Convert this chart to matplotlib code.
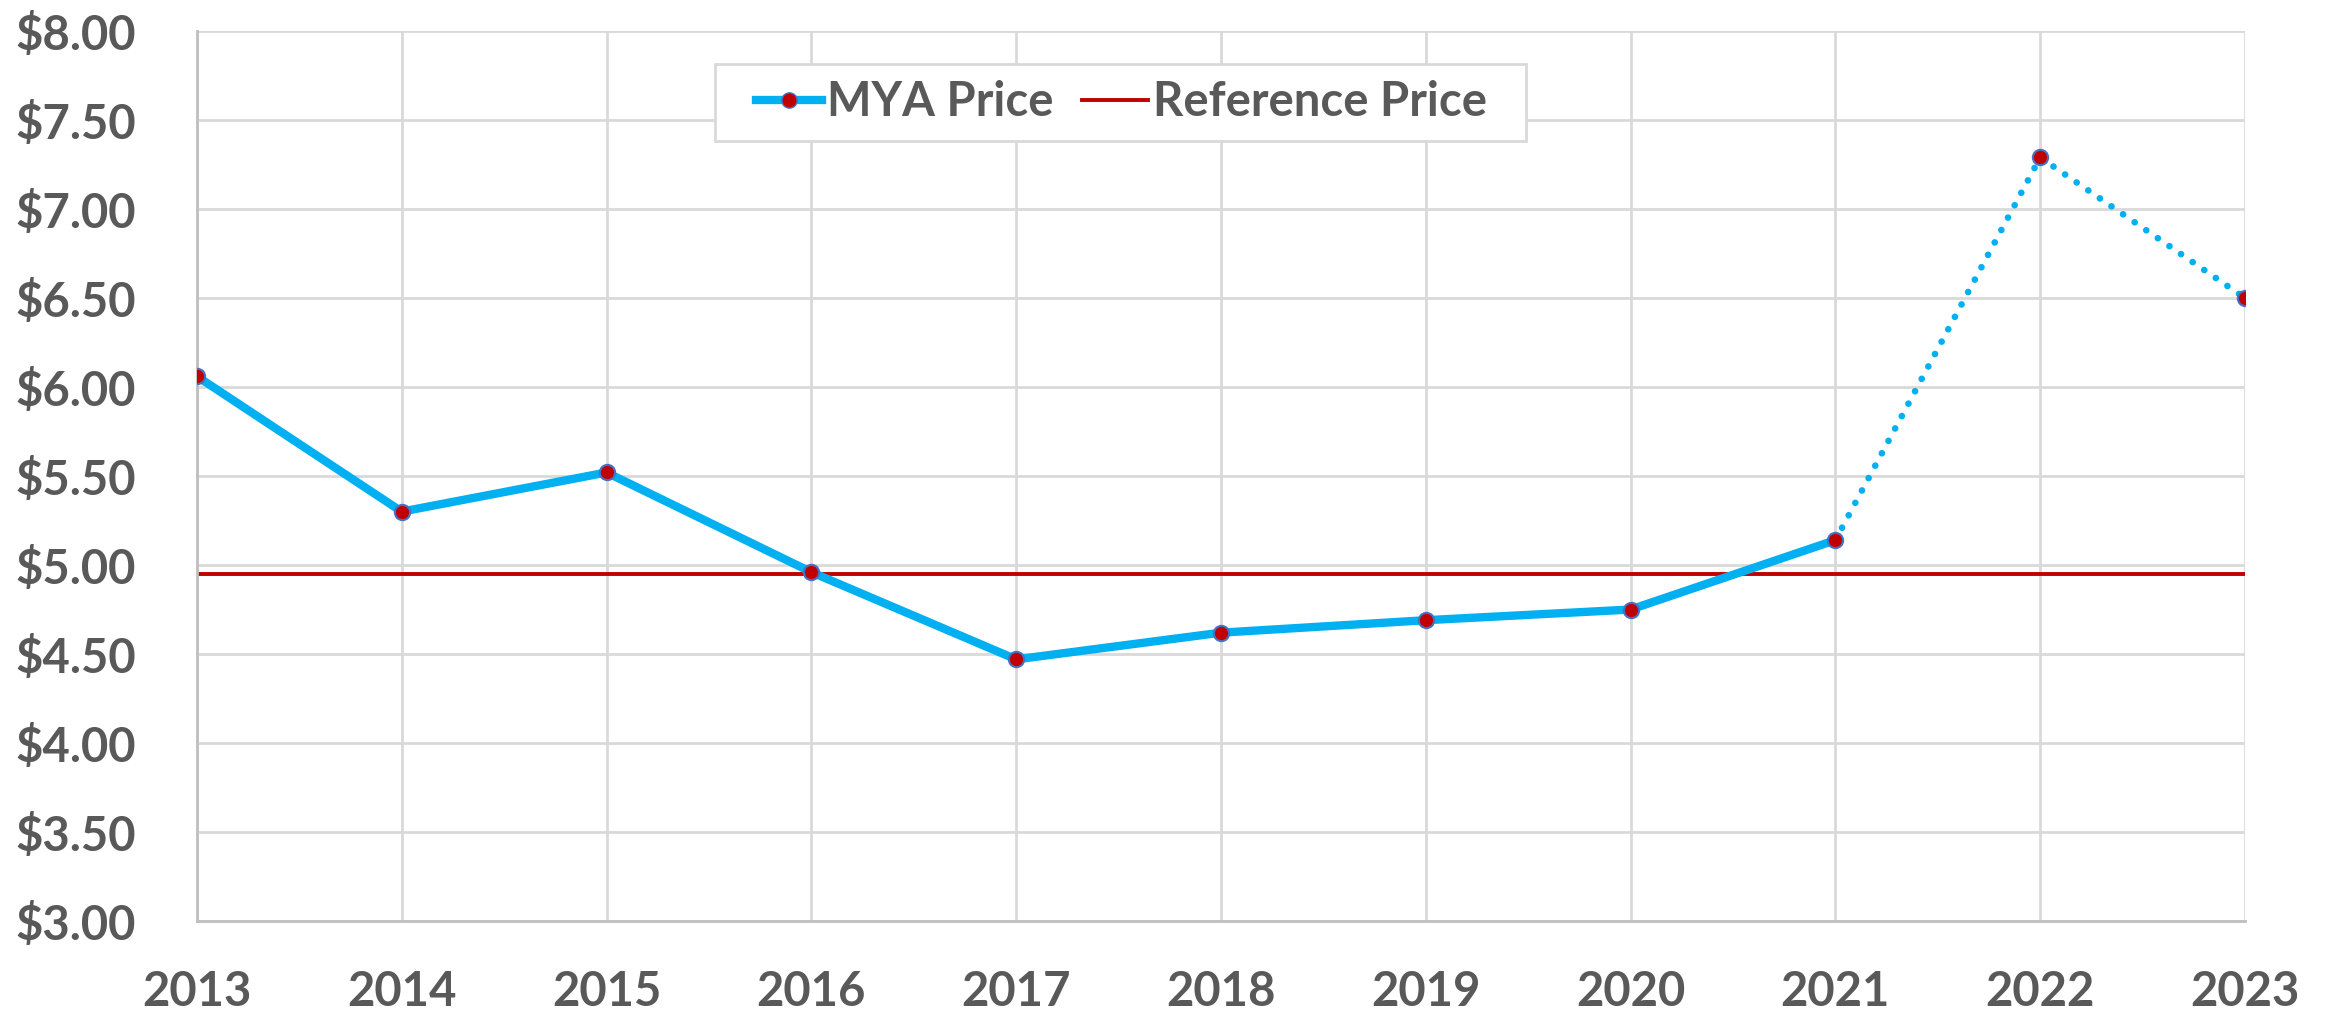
import matplotlib.pyplot as plt
from matplotlib.lines import Line2D
from matplotlib.patches import Rectangle
from matplotlib.ticker import FuncFormatter

years = [2013, 2014, 2015, 2016, 2017, 2018, 2019, 2020, 2021, 2022, 2023]
mya_price = [6.06, 5.30, 5.52, 4.96, 4.47, 4.62, 4.69, 4.75, 5.14, 7.29, 6.50]
n_actual = 9  # 2013-2021 actual, 2022-2023 projected (dotted)
reference_price = 4.95

blue = "#00b0f0"
red = "#c00000"
edge = "#4472c4"
txt = "#595959"

plt.rcParams["font.family"] = ["Lato", "DejaVu Sans"]
plt.rcParams["font.weight"] = "bold"

fig = plt.figure(figsize=(23.25, 10.11), dpi=100)
ax = fig.add_axes([0.0847, 0.089, 0.8809, 0.8803])

ax.axhline(reference_price, color=red, lw=2.8, zorder=2)
ax.plot(years[:n_actual], mya_price[:n_actual], color=blue, lw=6,
        solid_capstyle="round", zorder=3)
ax.plot(years[n_actual - 1:], mya_price[n_actual - 1:], color=blue, lw=4.8,
        linestyle=(0, (0.01, 2.1)), dash_capstyle="round", zorder=3)
ax.plot(years, mya_price, ls="none", marker="o", ms=11, mfc=red,
        mec=edge, mew=1.5, zorder=4)

ax.set_xlim(years[0], years[-1])
ax.set_ylim(3, 8)
ax.set_xticks(years)
ax.set_yticks([3 + 0.5 * i for i in range(11)])
ax.yaxis.set_major_formatter(FuncFormatter(lambda v, p: f"${v:.2f}"))
ax.grid(True, color="#d9d9d9", lw=2)
ax.set_axisbelow(True)
for s in ["top", "right"]:
    ax.spines[s].set_visible(False)
for s in ["left", "bottom"]:
    ax.spines[s].set_color("#bfbfbf")
    ax.spines[s].set_linewidth(2)
ax.tick_params(length=0, labelsize=34, labelcolor=txt)
ax.tick_params(axis="x", pad=35)
ax.tick_params(axis="y", pad=44)
for lab in ax.get_xticklabels() + ax.get_yticklabels():
    lab.set_fontweight("bold")

# legend frame drawn separately to get the wide side padding
ax.add_patch(Rectangle((0.253, 0.876), 0.396, 0.087, transform=ax.transAxes,
                       facecolor="white", edgecolor="#d9d9d9", lw=2,
                       zorder=5, clip_on=False))
handles = [
    Line2D([], [], color=blue, lw=6, marker="o", ms=11, mfc=red, mec=edge),
    Line2D([], [], color=red, lw=2.8),
]
leg = ax.legend(handles, ["MYA Price", "Reference Price"], loc="center left",
                bbox_to_anchor=(0.273, 0.92), ncol=2, fontsize=34,
                frameon=False, handlelength=1.4, handletextpad=0.1,
                columnspacing=0.6, borderpad=0, borderaxespad=0)
leg.set_zorder(6)
for t in leg.get_texts():
    t.set_color(txt)
    t.set_fontweight("bold")

fig.savefig("out.png", dpi=100)
